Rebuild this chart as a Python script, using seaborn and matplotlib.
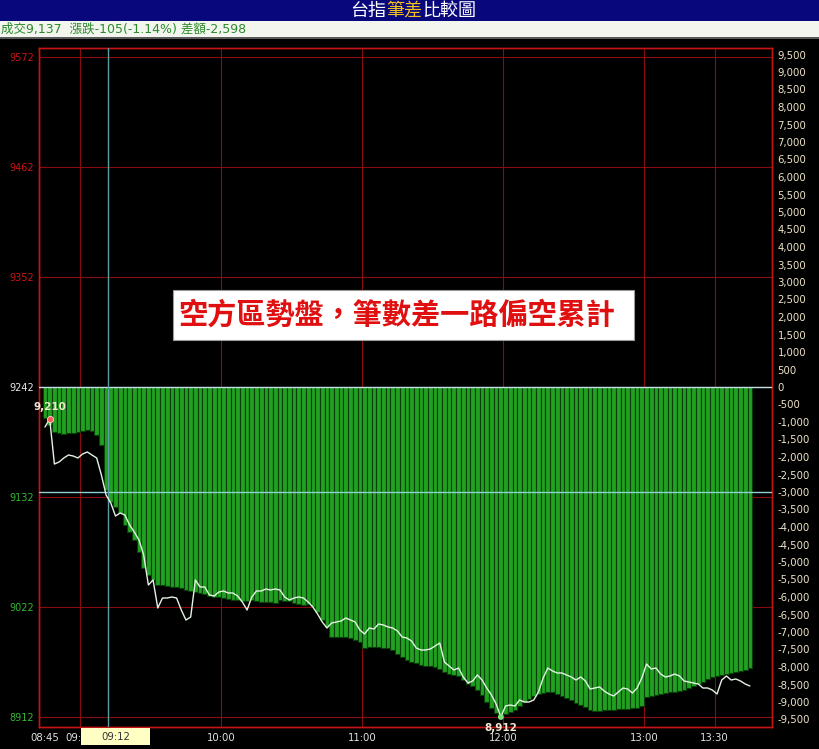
import matplotlib
matplotlib.use("Agg")
import matplotlib.pyplot as plt
import matplotlib.patches as mpatches
import matplotlib.transforms as mtransforms
import numpy as np
import pandas as pd
import seaborn as sns

# minutes after 08:45, one sample every 2 minutes up to 13:45
minutes = np.arange(0, 301, 2)

# index price (left axis)
price = [
    9202, 9210, 9165, 9167, 9171, 9174, 9173, 9171, 9175, 9177,
    9174, 9171, 9154, 9134, 9126, 9113, 9116, 9114, 9104, 9097,
    9089, 9074, 9044, 9049, 9021, 9031, 9031, 9032, 9031, 9019,
    9009, 9012, 9049, 9042, 9042, 9034, 9033, 9037, 9038, 9036,
    9036, 9033, 9027, 9019, 9032, 9038, 9038, 9040, 9039, 9040,
    9039, 9032, 9029, 9031, 9032, 9031, 9027, 9022, 9015, 9007,
    9001, 9006, 9007, 9008, 9011, 9009, 9007, 8999, 8995, 9001,
    9000, 9005, 9004, 9002, 9001, 8998, 8992, 8991, 8988, 8981,
    8979, 8979, 8980, 8983, 8986, 8967, 8963, 8959, 8961, 8952,
    8946, 8948, 8954, 8949, 8941, 8934, 8925, 8912, 8923, 8924,
    8923, 8929, 8927, 8927, 8929, 8937, 8951, 8961, 8958, 8956,
    8956, 8954, 8952, 8949, 8952, 8948, 8940, 8941, 8942, 8938,
    8935, 8933, 8937, 8941, 8940, 8936, 8941, 8951, 8965, 8960,
    8961, 8955, 8952, 8953, 8955, 8953, 8948, 8947, 8946, 8945,
    8941, 8941, 8939, 8935, 8949, 8953, 8949, 8950, 8948, 8945,
    8943,
]

# cumulative tick-count difference (right axis)
tick_diff = [
    -890, -1090, -1290, -1310, -1340, -1310, -1310, -1290, -1260, -1230,
    -1260, -1370, -1660, -2940, -3290, -3430, -3600, -3940, -4140, -4370,
    -4710, -5170, -5370, -5510, -5660, -5660, -5690, -5710, -5710, -5740,
    -5800, -5830, -5860, -5890, -5910, -5970, -6000, -6000, -6030, -6060,
    -6090, -6090, -6110, -6110, -6090, -6110, -6140, -6140, -6140, -6170,
    -6090, -6110, -6110, -6170, -6200, -6230, -6200, -6290, -6430, -6660,
    -6860, -7140, -7140, -7140, -7140, -7170, -7230, -7290, -7460, -7430,
    -7430, -7430, -7460, -7460, -7510, -7630, -7710, -7800, -7860, -7890,
    -7940, -7970, -7970, -8000, -8060, -8140, -8200, -8230, -8260, -8370,
    -8490, -8540, -8660, -8800, -9000, -9170, -9310, -9370, -9340, -9290,
    -9230, -9110, -9000, -8910, -8830, -8770, -8740, -8710, -8710, -8770,
    -8830, -8890, -8940, -9030, -9090, -9140, -9230, -9260, -9260, -9230,
    -9230, -9230, -9200, -9200, -9200, -9170, -9170, -9110, -8860, -8830,
    -8800, -8770, -8740, -8710, -8710, -8690, -8660, -8600, -8540, -8490,
    -8430, -8340, -8290, -8260, -8230, -8200, -8170, -8140, -8110, -8090,
    -8030,
]

left_ticks = [8912, 9022, 9132, 9242, 9352, 9462, 9572]
left_tick_colors = ["#33b833", "#33b833", "#33b833", "#e6e6e6",
                    "#d01414", "#d01414", "#d01414"]
right_ticks = list(range(-9500, 9501, 500))
time_ticks = [0, 15, 75, 135, 195, 255, 285]
time_labels = ["08:45", "09:00", "10:00", "11:00", "12:00", "13:00", "13:30"]
prev_close = 9242
last_price = 9137
cursor_minute = 27
cursor_label = "09:12"
title_parts = [("台指", "white"), ("筆差", "#f2c21b"), ("比較圖", "white")]
info_text = "成交9,137  漲跌-105(-1.14%) 差額-2,598"
note_text = "空方區勢盤，筆數差一路偏空累計"

W, H = 820, 749

sns.set_theme(style="dark", rc={"axes.facecolor": "black", "figure.facecolor": "black"})
plt.rcParams["font.family"] = ["DejaVu Sans", "Noto Sans CJK TC"]

df = pd.DataFrame({"minute": minutes, "price": price, "diff": tick_diff})

fig = plt.figure(figsize=(W / 100, H / 100), dpi=100, facecolor="black")
ax = fig.add_axes([39 / W, 22 / H, 733 / W, 679 / H])
ax2 = ax.twinx()
ax.set_zorder(ax2.get_zorder() + 1)
ax.patch.set_visible(False)
ax2.patch.set_visible(True)
ax2.patch.set_facecolor("black")

# grid (behind the bars)
grid_red = "#8a0c0c"
for v in left_ticks:
    ax2.axhline((v - prev_close) * 1000 / 35, color=grid_red, lw=0.8, zorder=0.5)
for t in time_ticks[1:]:
    ax2.axvline(t, color=grid_red, lw=0.8, zorder=0.5)

sns.barplot(data=df, x="minute", y="diff", native_scale=True, width=1.0,
            color="#21a021", saturation=1, edgecolor="#083e08", linewidth=0.8,
            errorbar=None, ax=ax2, zorder=2)

sns.lineplot(data=df, x="minute", y="price", ax=ax, color="#e4f2e4",
             linewidth=1.0, zorder=4)

ax.axhline(prev_close, color="#bfe2e2", lw=1.0, zorder=3)
ax.axhline(last_price, color="#8fcfd2", lw=1.0, zorder=3)
ax.axvline(cursor_minute, color="#5b9ea4", lw=1.0, zorder=3)

ax.set_xlim(-2.55, 309.4)
ax.set_ylim(8902, 9581)
ax2.set_ylim((8902 - prev_close) * 1000 / 35, (9581 - prev_close) * 1000 / 35)

# high / low markers
i_hi = int(np.argmax(price))
i_lo = int(np.argmin(price))
ax.scatter([minutes[i_hi]], [price[i_hi]], s=20, color="#ff5656",
           edgecolor="#ffd0d0", linewidth=0.6, zorder=6)
ax.annotate(f"{price[i_hi]:,}", (minutes[i_hi], price[i_hi]), xytext=(0, 9),
            textcoords="offset points", ha="center", va="center",
            color="#f2e6d4", fontsize=7.5, fontweight="bold", zorder=7)
ax.scatter([minutes[i_lo]], [price[i_lo]], s=18, color="#78e078",
           edgecolor="none", zorder=6)
ax.annotate(f"{price[i_lo]:,}", (minutes[i_lo], price[i_lo]), xytext=(0, -8),
            textcoords="offset points", ha="center", va="center",
            color="#f2e6d4", fontsize=7.5, fontweight="bold", zorder=7,
            annotation_clip=False)

# axes styling
for a in (ax, ax2):
    a.grid(False)
    a.set_xlabel("")
    a.set_ylabel("")
    for s in a.spines.values():
        s.set_color("#c41414")
        s.set_linewidth(1.0)

ax.set_yticks(left_ticks, [str(v) for v in left_ticks])
for lbl, c in zip(ax.get_yticklabels(), left_tick_colors):
    lbl.set_color(c)
ax.tick_params(axis="y", length=0, pad=3.5, labelsize=7)

ax2.set_yticks(right_ticks, [f"{v:,}" for v in right_ticks])
ax2.tick_params(axis="y", length=0, pad=4, labelsize=7.3, labelcolor="#efe4c8")

ax.set_xticks(time_ticks, time_labels)
ax.tick_params(axis="x", length=0, pad=4, labelsize=7.3, labelcolor="#e2e2e2")

# cursor time box
bt = mtransforms.blended_transform_factory(ax.transData, ax.transAxes)
box_x0 = (81 - 45) / 2.35
box_x1 = (150 - 45) / 2.35
ax.add_patch(mpatches.Rectangle((box_x0, -18 / 679), box_x1 - box_x0, 17 / 679,
                                transform=bt, facecolor="#ffffc4", edgecolor="none",
                                clip_on=False, zorder=8))
ax.text((box_x0 + box_x1) / 2, -9.5 / 679, cursor_label, transform=bt,
        ha="center", va="center", fontsize=7.3, color="#333333",
        clip_on=False, zorder=9)

# header bars
fig.patches.append(mpatches.Rectangle((0, (H - 21) / H), 1, 21 / H,
                                      transform=fig.transFigure,
                                      facecolor="#08087c", edgecolor="none", zorder=1))
fig.patches.append(mpatches.Rectangle((0, (H - 37) / H), 1, 16 / H,
                                      transform=fig.transFigure,
                                      facecolor="#f2f6ee", edgecolor="none", zorder=1))
fig.patches.append(mpatches.Rectangle((0, (H - 39) / H), 1, 2 / H,
                                      transform=fig.transFigure,
                                      facecolor="#5a5a5a", edgecolor="none", zorder=1))

renderer = fig.canvas.get_renderer()
title_texts = []
for part, c in title_parts:
    title_texts.append(fig.text(0, (H - 11) / H, part, color=c, fontsize=13,
                                family=["Noto Sans CJK TC"], va="center", ha="left",
                                zorder=5))
widths = [t.get_window_extent(renderer).width for t in title_texts]
x = 413 - sum(widths) / 2
for t, w in zip(title_texts, widths):
    t.set_x(x / W)
    x += w

fig.text(1 / W, (H - 29) / H, info_text, color="#2b8a2b", fontsize=9,
         va="center", ha="left", zorder=5)

# comment box
fig.patches.append(mpatches.Rectangle((173 / W, (H - 340) / H), 461 / W, 50 / H,
                                      transform=fig.transFigure,
                                      facecolor="white", edgecolor="#9a9a9a",
                                      linewidth=0.8, zorder=10))
fig.text(396.5 / W, (H - 315) / H, note_text, color="#e01010", fontsize=21,
         fontweight="bold", family=["Noto Sans CJK TC"], ha="center", va="center",
         zorder=11)

fig.savefig("out.png", dpi=100, facecolor="black")
